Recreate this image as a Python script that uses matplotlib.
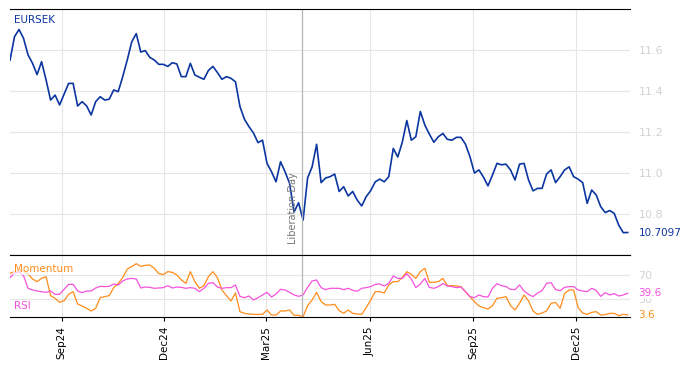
import numpy as np
import pandas as pd
import matplotlib
matplotlib.use('Agg')
import matplotlib.pyplot as plt
import matplotlib.dates as mdates

dates = pd.date_range('2024-07-17', periods=138, freq='4D')

eursek = [
    11.55, 11.665, 11.70, 11.657, 11.576, 11.535, 11.48, 11.543, 11.454, 11.356, 11.38, 11.332, 11.385, 11.437, 11.437, 11.327,
    11.348, 11.327, 11.283, 11.348, 11.372, 11.356, 11.36, 11.405, 11.397, 11.47, 11.551, 11.64, 11.68, 11.59, 11.597, 11.564,
    11.551, 11.53, 11.53, 11.52, 11.538, 11.532, 11.47, 11.47, 11.535, 11.478, 11.467, 11.457, 11.50, 11.52, 11.49,
    11.457, 11.47, 11.462, 11.445, 11.324, 11.262, 11.226, 11.195, 11.148, 11.16, 11.047, 11.006, 10.957, 11.055, 11.006,
    10.95, 10.81, 10.855, 10.77, 10.976, 11.03, 11.14, 10.953, 10.976, 10.982, 10.995, 10.91, 10.933, 10.888, 10.91,
    10.868, 10.839, 10.885, 10.914, 10.957, 10.97, 10.957, 10.982, 11.12, 11.078, 11.15, 11.256, 11.16, 11.177, 11.30, 11.234,
    11.19, 11.15, 11.177, 11.193, 11.164, 11.16, 11.174, 11.174, 11.141, 11.08, 11.00, 11.015, 10.98, 10.937, 10.99,
    11.047, 11.04, 11.043, 11.015, 10.966, 11.043, 11.047, 10.966, 10.913, 10.925, 10.925, 10.995, 11.015, 10.953, 10.982,
    11.015, 11.03, 10.982, 10.97, 10.953, 10.852, 10.917, 10.893, 10.836, 10.807, 10.817, 10.803, 10.746, 10.709, 10.7097,
]

momentum = [
    72.8, 75.6, 78.3, 76.7, 71.7, 63.3, 58.9, 64.4, 67.2, 35.6, 31.1, 24.4, 27.2, 37.8, 42.2, 21.7,
    18.3, 14.4, 10.0, 14.4, 32.2, 33.9, 35.6, 48.9, 56.1, 65.6, 80.0, 83.9, 88.9, 84.4, 86.1, 86.7,
    81.1, 72.2, 70.6, 75.6, 74.4, 70.0, 61.7, 56.1, 75.6, 58.9, 47.8, 52.2, 67.2, 75.6, 65.6,
    45.0, 35.6, 26.7, 40.0, 8.9, 6.1, 5.0, 4.4, 4.4, 4.4, 11.7, 3.3, 3.3, 10.0, 10.0,
    11.7, 2.8, 2.8, 0.5, 18.9, 28.3, 41.1, 25.6, 20.0, 20.0, 21.1, 10.6, 6.1, 11.7, 6.1,
    5.0, 4.4, 15.6, 28.3, 42.2, 42.2, 40.0, 53.3, 58.9, 58.9, 65.6, 75.6, 71.1, 64.4, 75.6, 81.1,
    57.8, 57.8, 58.9, 64.4, 52.2, 52.2, 51.7, 50.6, 42.2, 33.9, 25.6, 18.3, 15.6, 13.3, 18.9,
    31.1, 32.2, 33.9, 18.9, 11.7, 22.8, 36.7, 26.7, 10.0, 4.4, 6.7, 10.0, 22.8, 24.4, 14.4,
    39.4, 45.0, 45.0, 15.6, 6.7, 4.4, 7.8, 8.9, 3.3, 3.9, 6.1, 6.1, 2.2, 4.4, 3.6,
]

rsi = [
    65.6, 72.8, 75.6, 68.9, 47.8, 45.0, 43.3, 42.2, 41.1, 43.3, 37.8, 37.8, 46.1, 54.4, 54.4, 43.3,
    40.6, 43.3, 43.3, 48.3, 51.1, 50.6, 51.1, 55.0, 53.3, 60.0, 63.3, 64.4, 63.3, 48.3, 50.0, 49.4,
    47.8, 48.3, 48.9, 52.2, 48.3, 50.0, 49.4, 47.8, 48.9, 47.8, 42.2, 47.8, 56.1, 57.2, 50.0,
    47.8, 48.9, 48.9, 53.3, 34.4, 32.2, 35.0, 28.3, 32.2, 36.7, 41.1, 33.3, 38.3, 46.1, 45.0,
    41.1, 36.7, 34.4, 36.7, 49.4, 60.0, 61.7, 48.9, 45.6, 47.8, 47.8, 47.8, 45.6, 47.8, 44.4,
    42.8, 47.8, 48.9, 50.6, 54.4, 55.0, 51.7, 56.1, 68.3, 64.4, 64.4, 72.2, 63.3, 48.9, 55.0, 64.4,
    49.4, 47.8, 50.6, 55.6, 51.7, 50.6, 48.9, 50.0, 42.2, 33.9, 32.2, 36.7, 33.9, 33.3, 47.8,
    55.6, 52.2, 50.6, 46.1, 45.6, 53.3, 43.3, 37.8, 33.9, 40.0, 43.9, 56.1, 57.2, 45.6, 43.9,
    49.4, 50.6, 50.6, 45.0, 43.3, 42.2, 47.8, 44.4, 34.4, 40.6, 36.7, 38.9, 35.0, 36.7, 39.6,
]

event_date = pd.Timestamp('2025-04-02')
event_label = 'Liberation Day'

blue = '#0b35a0'
orange = '#ff8c1a'
pink = '#f552dc'
grid_c = '#e6e6e6'
tick_c = '#d2d2d2'

fig = plt.figure(figsize=(6.87, 3.66), dpi=100)
ax = fig.add_axes([10/687, 1-255/366, 620/687, 246/366])
ax2 = fig.add_axes([10/687, 1-317/366, 620/687, 62/366], sharex=ax)

xmin, xmax = pd.Timestamp('2024-07-17'), pd.Timestamp('2026-01-18')

ax.plot(dates, eursek, color=blue, lw=1.2)
ax.set_xlim(xmin, xmax)
ax.set_ylim(10.6, 11.8)
ax.yaxis.tick_right()
ax.set_yticks([10.8, 11.0, 11.2, 11.4, 11.6])
ax.tick_params(axis='y', length=0, pad=6, labelcolor=tick_c, labelsize=8)
ax.tick_params(axis='x', length=3, labelbottom=False)
ax.grid(True, color=grid_c, lw=0.8)
ax.set_axisbelow(True)
for s in ['left', 'right']:
    ax.spines[s].set_visible(False)
ax.axvline(event_date, color='#b5b5b5', lw=0.9)
ax.annotate(event_label, (event_date, 10.655), xytext=(-3, 0), textcoords='offset points',
            rotation=90, ha='right', va='bottom', color='#777777', fontsize=7)
ax.text(0.006, 0.955, 'EURSEK', transform=ax.transAxes, color=blue, fontsize=7.5,
        va='center', ha='left', bbox=dict(facecolor='white', edgecolor='none', alpha=0.7, pad=0.5))
ax.annotate('%.4f' % eursek[-1], (1, eursek[-1]), xycoords=('axes fraction', 'data'),
            xytext=(6, 0), textcoords='offset points', va='center', ha='left', color=blue, fontsize=7.5,
            bbox=dict(facecolor='white', edgecolor='none', pad=0.5))

ax2.plot(dates, momentum, color=orange, lw=0.9)
ax2.plot(dates, rsi, color=pink, lw=0.9)
ax2.set_ylim(0, 103.3)
ax2.yaxis.tick_right()
ax2.set_yticks([30, 70])
ax2.tick_params(axis='y', length=0, pad=6, labelcolor=tick_c, labelsize=8)
ax2.tick_params(axis='x', length=3, labelsize=7.5, labelrotation=90)
ax2.grid(True, color=grid_c, lw=0.8)
ax2.set_axisbelow(True)
for s in ['left', 'right']:
    ax2.spines[s].set_visible(False)
ax2.axvline(event_date, color='#b5b5b5', lw=0.9)
ax2.xaxis.set_major_locator(mdates.MonthLocator(bymonth=[3, 6, 9, 12]))
ax2.xaxis.set_major_formatter(mdates.DateFormatter('%b%y'))
ax2.text(0.006, 0.77, 'Momentum', transform=ax2.transAxes, color=orange, fontsize=7.5,
         va='center', ha='left', bbox=dict(facecolor='white', edgecolor='none', alpha=0.7, pad=0.5))
ax2.text(0.006, 0.18, 'RSI', transform=ax2.transAxes, color=pink, fontsize=7.5,
         va='center', ha='left', bbox=dict(facecolor='white', edgecolor='none', alpha=0.7, pad=0.5))
ax2.annotate('%.1f' % rsi[-1], (1, rsi[-1]), xycoords=('axes fraction', 'data'),
             xytext=(6, 0), textcoords='offset points', va='center', ha='left', color=pink, fontsize=7.5,
             bbox=dict(facecolor='white', edgecolor='none', alpha=0.85, pad=0.5), zorder=5)
ax2.annotate('%.1f' % momentum[-1], (1, momentum[-1]), xycoords=('axes fraction', 'data'),
             xytext=(6, 0), textcoords='offset points', va='center', ha='left', color=orange, fontsize=7.5,
             bbox=dict(facecolor='white', edgecolor='none', pad=0.5), zorder=5)

fig.savefig('out.png', dpi=100)
